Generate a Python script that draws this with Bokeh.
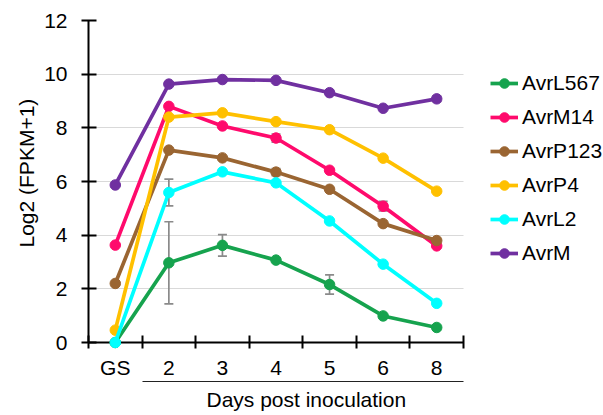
from bokeh.plotting import figure
from bokeh.models import (Range1d, FixedTicker, LinearAxis, Legend, LegendItem,
                          ColumnDataSource, Whisker, TeeHead, Grid, Title)
from bokeh.embed import file_html
from bokeh.resources import INLINE

# ---------------- data ----------------
categories = ["GS", "2", "3", "4", "5", "6", "8"]
y_ticks = [0, 2, 4, 6, 8, 10, 12]

series_names = ["AvrL567", "AvrM14", "AvrP123", "AvrP4", "AvrL2", "AvrM"]
series_colors = ["#16A34E", "#FF0A6C", "#9A6532", "#FFC000", "#00FFFF", "#7030A0"]

AvrL567 = [0.0, 2.97, 3.62, 3.07, 2.16, 0.99, 0.56]
AvrM14 = [3.63, 8.80, 8.07, 7.62, 6.42, 5.08, 3.60]
AvrP123 = [2.20, 7.17, 6.88, 6.35, 5.71, 4.43, 3.80]
AvrP4 = [0.46, 8.40, 8.56, 8.23, 7.93, 6.87, 5.64]
AvrL2 = [0.0, 5.59, 6.36, 5.95, 4.53, 2.92, 1.46]
AvrM = [5.87, 9.63, 9.80, 9.77, 9.31, 8.73, 9.08]

err_AvrL567 = [0.0, 1.53, 0.40, 0.0, 0.36, 0.0, 0.0]
err_AvrM14 = [0.0, 0.0, 0.0, 0.15, 0.0, 0.18, 0.0]
err_AvrP123 = [0.0, 0.0, 0.0, 0.13, 0.0, 0.0, 0.0]
err_AvrP4 = [0.0, 0.0, 0.0, 0.0, 0.0, 0.0, 0.0]
err_AvrL2 = [0.0, 0.50, 0.0, 0.0, 0.0, 0.0, 0.0]
err_AvrM = [0.0, 0.0, 0.0, 0.0, 0.0, 0.0, 0.10]

x_title = "Days post inoculation"
y_title = "Log2 (FPKM+1)"

values = [AvrL567, AvrM14, AvrP123, AvrP4, AvrL2, AvrM]
errors = [err_AvrL567, err_AvrM14, err_AvrP123, err_AvrP4, err_AvrL2, err_AvrM]

FONT = "Liberation Sans"
FS = "21px"

n = len(categories)
xs = [i + 0.5 for i in range(n)]

# frame spans to the right edge so the legend can sit inside it;
# the category area keeps its 375 px width
W, H = 603, 415
LEFT, TOP, BOTTOM = 88, 20, 72
x_end = n * (W - LEFT) / 375.0

p = figure(width=W, height=H, output_backend="svg", toolbar_location=None,
           x_range=Range1d(0, x_end), y_range=Range1d(0, 12),
           min_border_left=LEFT, min_border_right=0, min_border_top=TOP,
           min_border_bottom=BOTTOM, x_axis_type=None, y_axis_type=None)
p.outline_line_color = None
p.background_fill_color = "white"
p.border_fill_color = "white"

# y axis
yax = LinearAxis(ticker=FixedTicker(ticks=y_ticks))
yax.axis_line_width = 2
yax.major_tick_line_width = 2
yax.major_tick_in = 8
yax.major_tick_out = 7
yax.minor_tick_line_color = None
yax.major_label_standoff = 14
yax.major_label_text_font = FONT
yax.major_label_text_font_size = FS
yax.major_label_text_color = "black"
p.add_layout(yax, "left")

ytitle = Title(text=y_title, align="left", offset=95, standoff=7,
               text_font=FONT, text_font_size=FS, text_font_style="normal",
               text_color="black")
p.add_layout(ytitle, "left")

# x axis (labels at category centres, ticks at boundaries)
xax = LinearAxis(ticker=FixedTicker(ticks=xs, minor_ticks=list(range(n + 1))),
                 bounds=(0, n))
xax.major_label_overrides = {x: c for x, c in zip(xs, categories)}
xax.axis_line_width = 2
xax.major_tick_line_color = None
xax.major_tick_in = 0
xax.major_tick_out = 0
xax.minor_tick_line_width = 2
xax.minor_tick_in = 7
xax.minor_tick_out = 6
xax.major_label_standoff = 7
xax.major_label_text_font = FONT
xax.major_label_text_font_size = FS
xax.major_label_text_color = "black"
p.add_layout(xax, "below")

# bracket under day labels
bax = LinearAxis(ticker=FixedTicker(ticks=[]), bounds=(1, n))
bax.axis_line_width = 1.2
bax.axis_line_color = "#222222"
bax.major_tick_line_color = None
bax.minor_tick_line_color = None
bax.major_label_text_font_size = "0px"
p.add_layout(bax, "below")

xtitle = Title(text=x_title, align="left", offset=118, standoff=9,
               text_font=FONT, text_font_size=FS, text_font_style="normal",
               text_color="black")
p.add_layout(xtitle, "below")

# grid
p.add_layout(Grid(dimension=1, ticker=yax.ticker, grid_line_color="#d9d9d9",
                  grid_line_width=1, cross_bounds=(0, n)))

for name, col, vals, errs in zip(series_names, series_colors, values, errors):
    ex = [x for x, e in zip(xs, errs) if e > 0]
    if ex:
        esrc = ColumnDataSource(dict(
            x=ex,
            lo=[v - e for v, e in zip(vals, errs) if e > 0],
            hi=[v + e for v, e in zip(vals, errs) if e > 0]))
        w = Whisker(source=esrc, base="x", lower="lo", upper="hi", dimension="height",
                    line_color="#8a8a8a", line_width=1.7, level="glyph",
                    upper_head=TeeHead(size=9, line_color="#8a8a8a", line_width=1.7),
                    lower_head=TeeHead(size=9, line_color="#8a8a8a", line_width=1.7))
        p.add_layout(w)

items = []
for name, col, vals, errs in zip(series_names, series_colors, values, errors):
    src = ColumnDataSource(dict(x=xs, y=vals))
    r1 = p.line("x", "y", source=src, line_color=col, line_width=3.7, level="overlay")
    r2 = p.scatter("x", "y", source=src, size=10.5, fill_color=col, line_color=col,
                   level="overlay")
    items.append(LegendItem(label=name, renderers=[r1, r2]))

legend = Legend(items=items, location=(402, 77), orientation="vertical")
legend.glyph_width = 28
legend.glyph_height = 24
legend.spacing = 10
legend.padding = 0
legend.margin = 0
legend.label_standoff = 4
legend.border_line_color = None
legend.background_fill_alpha = 0
legend.label_text_font = FONT
legend.label_text_font_size = FS
legend.label_text_color = "black"
legend.label_text_baseline = "middle"
p.add_layout(legend)

open("out.html", "w").write(file_html(p, INLINE))
